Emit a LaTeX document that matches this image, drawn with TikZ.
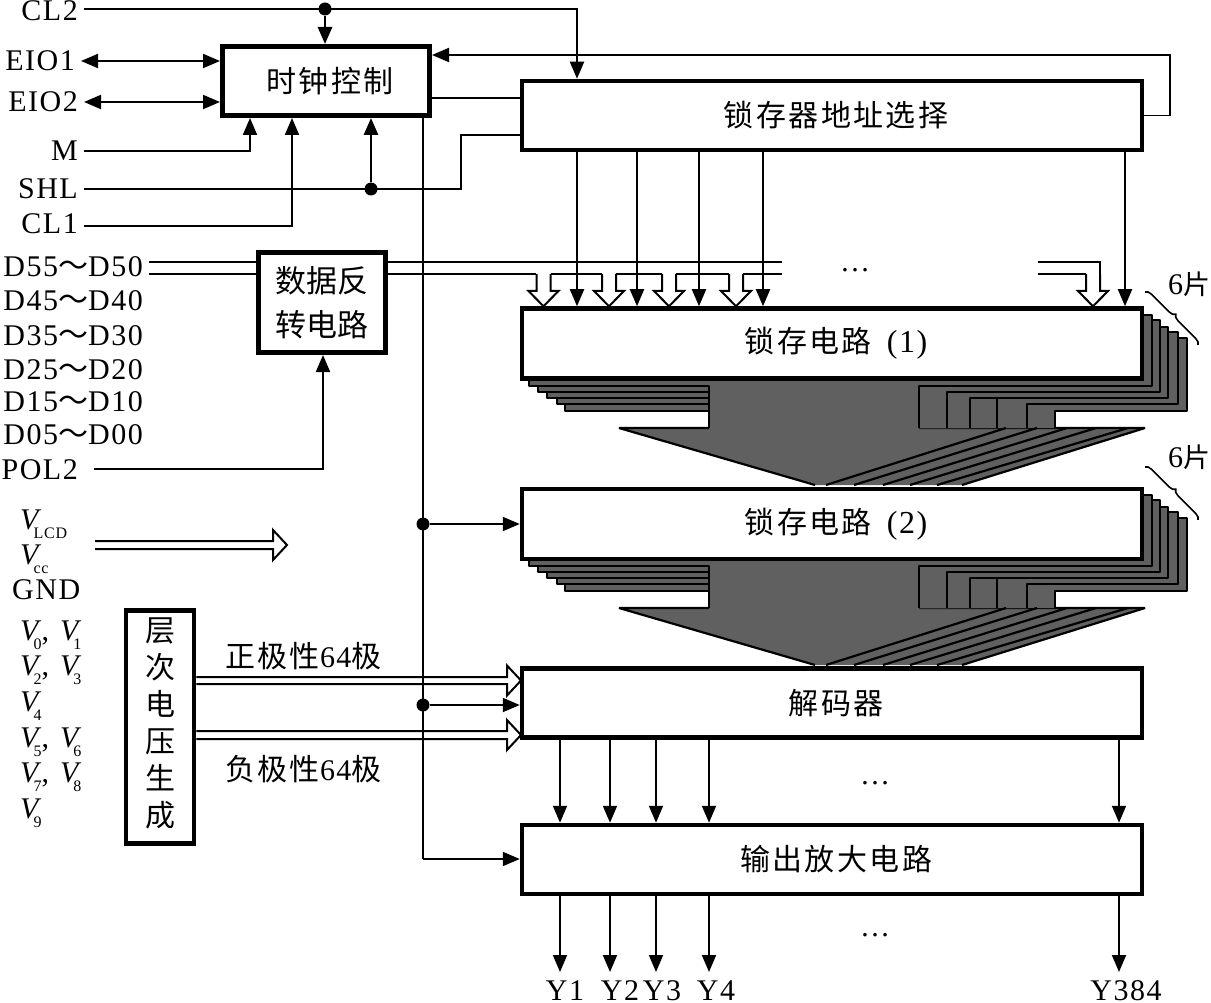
\documentclass[tikz,border=0pt]{standalone}
\usepackage{fontspec}
\setmainfont[LetterSpace=5]{Liberation Serif}
\newfontfamily\cjk[LetterSpace=8]{Noto Sans CJK SC}
\newfontfamily\cjktight{Noto Sans CJK SC}
\usetikzlibrary{arrows.meta, positioning, calc, decorations.pathreplacing}
\definecolor{stackcolor}{RGB}{96,96,96}
\newcommand{\lblfont}{\fontsize{30}{34}\selectfont}
\newcommand{\vsym}[1]{{\itshape V}\kern-5pt\raisebox{-9pt}{\fontsize{16}{16}\selectfont #1}}
\newcommand{\vpair}[2]{\vsym{#1},\hspace{11pt}\vsym{#2}}
\newcommand{\hollowdown}[1]{\draw[wire] (#1-7,274) -- (#1-7,291) -- (#1-15,291) -- (#1,0 |- latchone.north) -- (#1+15,291) -- (#1+7,291) -- (#1+7,274);}
\newcommand{\hollowright}[3]{\draw[wire] ([yshift=#3pt]#1 |- #2) -- ([yshift=#3pt]#2) -- ([yshift=15pt]#2) -- ($(#2)+(14,0)$) -- ([yshift=-15pt]#2) -- ([yshift=-#3pt]#2) -- ([yshift=-#3pt]#1 |- #2);}
\begin{document}
\begin{tikzpicture}[
    x=1pt, y=-1pt,
    wire/.style={line width=2pt},
    arrow/.style={-{Stealth[inset=0pt,length=17pt,width=14pt]}, line width=1.9pt},
    fatarrow/.style={arrow, line width=2.8pt},
    dblarrow/.style={{Stealth[inset=0pt,length=17pt,width=14pt]}-{Stealth[inset=0pt,length=17pt,width=14pt]}, line width=1.9pt},
    box/.style={rectangle, draw, fill=white, line width=4.5pt, minimum width=620pt, minimum height=69pt, inner sep=0pt, align=center, font=\cjk\fontsize{30}{34}\selectfont},
    shifted/.style={execute at begin node=\hspace*{8pt}},
    lbl/.style={anchor=east, inner xsep=6pt, inner ysep=0pt, text height=20pt, text depth=0pt, font=\lblfont},
    txt/.style={anchor=west, inner sep=0pt, font=\lblfont},
    vtxt/.style={txt, text height=21pt, text depth=10pt},
    jdot/.style={circle, fill=black, inner sep=0pt, minimum size=13pt},
    stackline/.style={line width=2.2pt, line join=bevel}
]
\useasboundingbox (0,0) rectangle (1211,1003);

\foreach \sy in {0,180} {
\begin{scope}[shift={(0,\sy)}]
\fill[stackcolor] (619,428) -- (815,485) -- (962,485) -- (1145,428) -- cycle;
\draw[stackline] (709,428) -- (619,428) -- (815,485);
\draw[stackline] (919,428) -- (1145,428) -- (962,485);
\foreach \lx/\by/\rx/\ty/\nx in {565/411/1187/338/1055, 557/404/1178/332/1027, 547/398/1168/327/970, 538/392/1160/320/947, 529/386/1152/315/919} {
\fill[stackcolor] (\lx,340) -- (\lx,\by) -- (709,\by) -- (709,428) -- (\nx,428) -- (\nx,\by) -- (\rx,\by) -- (\rx,\ty) -- (1100,\ty) -- cycle;
\draw[stackline] (709,428) -- (709,\by) -- (\lx,\by) -- (\lx,340);
\draw[stackline] (\nx,428) -- (\nx,\by) -- (\rx,\by) -- (\rx,\ty) -- (1100,\ty);
}
\draw[stackline] (997,398) -- (997,428);
\foreach \tx/\bx in {1006/826, 1037/854, 1067/883, 1096/910, 1128/937} {
\draw[stackline] (\tx,428) -- (\bx,485);
}
\end{scope}
}
\draw[decorate, decoration={brace, amplitude=6pt}, line width=1.6pt] (1145,292) -- (1198,345);
\draw[decorate, decoration={brace, amplitude=6pt}, line width=1.6pt] (1145,467) -- (1198,520);

\node[box, shifted, minimum width=207pt, line width=5pt] (clock) at (326,81) {时钟控制};
\node[box, shifted] (addr) at (832,115.5) {锁存器地址选择};
\node[box, shifted, minimum height=70pt, below=154pt of addr] (latchone) {锁存电路\hspace{15pt}{\rmfamily\fontsize{32}{34}\selectfont (1)}};
\node[box, shifted, minimum height=70pt, below=106pt of latchone] (latchtwo) {锁存电路\hspace{15pt}{\rmfamily\fontsize{32}{34}\selectfont (2)}};
\node[box, shifted, below=105pt of latchtwo] (decoder) {解码器};
\node[box, shifted, below=83pt of decoder] (outamp) {输出放大电路};
\node[box, minimum width=127pt, minimum height=100pt, line width=5pt, font=\cjktight\fontsize{31}{44}\selectfont] (rev) at (322,302.5) {数据反\\转电路};
\node[box, minimum width=68pt, minimum height=233pt, text depth=10pt, font=\cjktight\fontsize{30}{37}\selectfont] (levels) at (160,727) {层\\次\\电\\压\\生\\成};

\node[lbl] (cltwo) at (84,11) {CL2};
\node[lbl] (eioone) at (81,61) {EIO1};
\node[lbl] (eiotwo) at (84,102) {EIO2};
\node[lbl] (mode) at (84,151) {M};
\node[lbl] (shl) at (84,189) {SHL};
\node[lbl] (clone) at (84,224) {CL1};
\node[lbl] (dfive) at (149,267) {D55{\cjktight ～}D50};
\node[lbl] at (149,300) {D45{\cjktight ～}D40};
\node[lbl] at (149,335) {D35{\cjktight ～}D30};
\node[lbl] at (149,369) {D25{\cjktight ～}D20};
\node[lbl] at (149,401) {D15{\cjktight ～}D10};
\node[lbl] at (149,434) {D05{\cjktight ～}D00};
\node[lbl, inner xsep=16pt] (pol) at (94,469) {POL2};

\node[vtxt] at (20,523.5) {\vsym{LCD}};
\node[vtxt] at (20,558.5) {\vsym{cc}};
\node[txt] at (12,590) {GND};
\node[vtxt] at (20,634.5) {\vpair{0}{1}};
\node[vtxt] at (20,669.5) {\vpair{2}{3}};
\node[vtxt] at (20,705.5) {\vsym{4}};
\node[vtxt] at (20,741.5) {\vpair{5}{6}};
\node[vtxt] at (20,776.5) {\vpair{7}{8}};
\node[vtxt] at (20,812.5) {\vsym{9}};

\node[txt, font=\cjk\fontsize{30}{34}\selectfont] at (225,656) {正极性{\rmfamily\lblfont 64}极};
\node[txt, font=\cjk\fontsize{30}{34}\selectfont] at (225,769) {负极性{\rmfamily\lblfont 64}极};
\node[txt, font=\cjktight\fontsize{27}{34}\selectfont] at (1168,284) {{\rmfamily\lblfont 6}片};
\node[txt, font=\cjktight\fontsize{27}{34}\selectfont] at (1168,457) {{\rmfamily\lblfont 6}片};
\node[font=\lblfont] at (855,270) {…};
\node[font=\lblfont] at (875,783) {…};
\node[font=\lblfont] at (875,935) {…};

\node[lbl, anchor=center] (yone) at (565,990) {Y1};
\node[lbl, anchor=center] (ytwo) at (620,990) {Y2};
\node[lbl, anchor=center] (ythree) at (662,990) {Y3};
\node[lbl, anchor=center] (yfour) at (716,990) {Y4};
\node[lbl, anchor=center] (ylast) at (1126,990) {Y384};

\node[jdot] (jclock) at (325,9) {};
\node[jdot] (jshl) at (371,189) {};
\node[jdot] (jlatch) at (423,524) {};
\node[jdot] (jdec) at (423,705) {};

\draw[arrow] ([yshift=2pt]cltwo.east) -| (577,0 |- addr.north);
\draw[fatarrow] (jclock) -- (jclock |- clock.north);
\draw[dblarrow] (eioone.east) -- (clock.west |- eioone.east);
\draw[dblarrow] (eiotwo.east) -- (clock.west |- eiotwo.east);
\draw[arrow] (mode.east) -| (250,0 |- clock.south);
\draw[arrow] ([yshift=-2pt]clone.east) -| (292,0 |- clock.south);
\draw[fatarrow] (jshl) -- (jshl |- clock.south);
\draw[wire] (shl.east) -| (461,135) -- (addr.west |- 0,135);
\draw[wire] (clock.east |- 0,98) -- (addr.west |- 0,98);
\draw[arrow] (addr.east) -| (1170,55) -- (clock.east |- 0,55);

\draw[wire] (423,0 |- clock.south) -- (423,859);
\draw[arrow] (423,859) -- (outamp.west |- 0,859);
\draw[arrow] (jlatch) -- (latchtwo.west |- jlatch);
\draw[arrow] (jdec) -- (decoder.west |- jdec);

\foreach \ax in {577,637,699,763,1125} {
\draw[arrow] (\ax,0 |- addr.south) -- (\ax,0 |- latchone.north);
}
\foreach \ax in {560,610,656,709,1119} {
\draw[arrow] (\ax,0 |- decoder.south) -- (\ax,0 |- outamp.north);
\draw[arrow] (\ax,0 |- outamp.south) -- (\ax,972);
}

\draw[arrow] (pol.east) -| (rev.south -| 323,0);

\draw[wire] ([yshift=4.5pt]dfive.east) -- ([yshift=4.5pt]rev.west |- dfive.east);
\draw[wire] ([yshift=-7pt]dfive.east) -- ([yshift=-7pt]rev.west |- dfive.east);
\draw[wire] (rev.east |- 0,262) -- (782,262);
\draw[wire] (rev.east |- 0,274) -- (536,274);
\draw[wire] (551,274) -- (602,274);
\draw[wire] (616,274) -- (662,274);
\draw[wire] (676,274) -- (729,274);
\draw[wire] (743,274) -- (782,274);
\draw[wire] (1038,262) -- (1100,262) -- (1100,291);
\draw[wire] (1038,274) -- (1086,274);
\foreach \hx in {543.5,609,669,736,1093} {
\hollowdown{\hx}
}

\coordinate (pwrtail) at (95,545);
\coordinate (pwrhead) at (273,545);
\coordinate (poshead) at (507,680.5);
\coordinate (neghead) at (507,735);
\hollowright{pwrtail}{pwrhead}{4}
\hollowright{levels.east}{poshead}{3.5}
\hollowright{levels.east}{neghead}{4}
\end{tikzpicture}
\end{document}
